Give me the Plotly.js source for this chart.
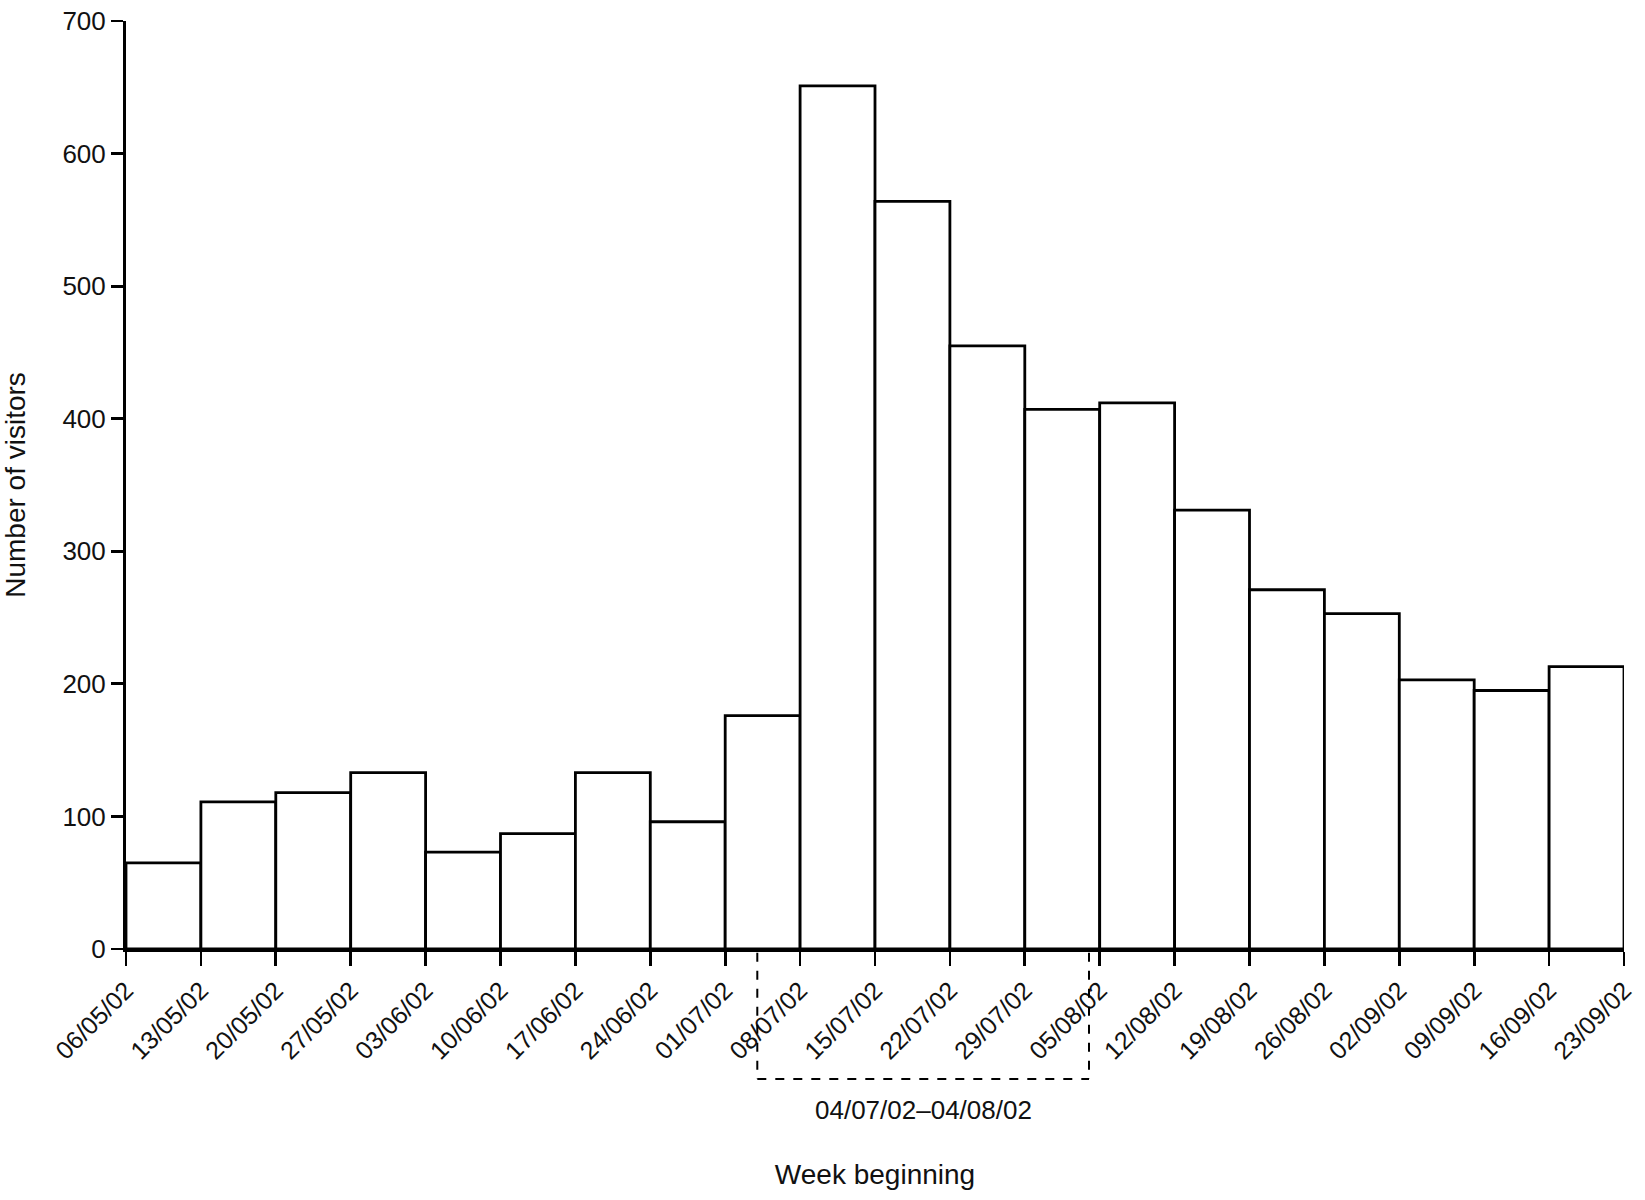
<!DOCTYPE html>
<html>
<head>
<meta charset="utf-8">
<script src="https://cdn.plot.ly/plotly-3.0.1.min.js"></script>
<style>html,body{margin:0;padding:0;background:#fff;}#chart{width:1645px;height:1200px;}</style>
</head>
<body>
<div id="chart"></div>
<script>
// Week boundaries (tick labels at bar edges)
const weekLabels = ["06/05/02","13/05/02","20/05/02","27/05/02","03/06/02","10/06/02","17/06/02",
  "24/06/02","01/07/02","08/07/02","15/07/02","22/07/02","29/07/02","05/08/02","12/08/02",
  "19/08/02","26/08/02","02/09/02","09/09/02","16/09/02","23/09/02"];
// Number of visitors per week
const visitors = [65, 111, 118, 133, 73, 87, 133, 96, 176, 651, 564, 455, 407, 412, 331, 271, 253, 203, 195, 213];
// Highlighted period (in week units from 06/05/02)
const periodStart = 8 + 3/7;   // 04/07/02
const periodEnd = 13 - 1/7;    // 04/08/02
const periodLabel = "04/07/02\u201304/08/02";

const fontFam = "Liberation Sans, Arial, Helvetica, sans-serif";
const xs = visitors.map((v, i) => i + 0.5);
const tickPos = weekLabels.map((l, i) => i);

const trace = {
  type: "bar",
  x: xs,
  y: visitors,
  width: 1,
  marker: {color: "#ffffff", line: {color: "#000000", width: 2.8}},
  hoverinfo: "x+y"
};

const layout = {
  width: 1645, height: 1200,
  margin: {l: 126, r: 21, t: 21, b: 251},
  paper_bgcolor: "#ffffff", plot_bgcolor: "#ffffff",
  showlegend: false,
  font: {family: fontFam, color: "#111111", size: 26},
  xaxis: {
    range: [0, weekLabels.length - 1],
    tickmode: "array",
    tickvals: tickPos,
    ticktext: weekLabels,
    tickangle: -45,
    ticks: "outside", ticklen: 14, tickwidth: 2.8, tickcolor: "#000",
    showline: true, linecolor: "#000", linewidth: 2.8,
    showgrid: false, zeroline: false,
    tickfont: {size: 25, family: fontFam, color: "#111"},
    title: {text: "Week beginning", font: {size: 28, family: fontFam, color: "#111"}, standoff: 101}
  },
  yaxis: {
    range: [0, 700],
    tickmode: "array",
    tickvals: [0,100,200,300,400,500,600,700],
    ticks: "outside", ticklen: 12, tickwidth: 2.8, tickcolor: "#000",
    showline: true, linecolor: "#000", linewidth: 3,
    showgrid: false, zeroline: false,
    tickfont: {size: 26, family: fontFam, color: "#111"},
    title: {text: "Number of visitors", font: {size: 28, family: fontFam, color: "#111"}, standoff: 30}
  },
  shapes: [
    {type: "line", xref: "x", yref: "paper", x0: periodStart, x1: periodStart, y0: -0.004, y1: -0.14,
     line: {color: "#000", width: 2, dash: "dash"}},
    {type: "line", xref: "x", yref: "paper", x0: periodEnd, x1: periodEnd, y0: -0.004, y1: -0.14,
     line: {color: "#000", width: 2, dash: "dash"}},
    {type: "line", xref: "x", yref: "paper", x0: periodStart, x1: periodEnd, y0: -0.14, y1: -0.14,
     line: {color: "#000", width: 2, dash: "dash"}}
  ],
  annotations: [
    {xref: "x", yref: "paper", x: (periodStart + periodEnd) / 2, y: -0.173, text: periodLabel,
     showarrow: false, font: {size: 26, family: fontFam, color: "#111"}, xanchor: "center", yanchor: "middle"}
  ]
};

Plotly.newPlot("chart", [trace], layout, {displayModeBar: false, staticPlot: true});
</script>
</body>
</html>
